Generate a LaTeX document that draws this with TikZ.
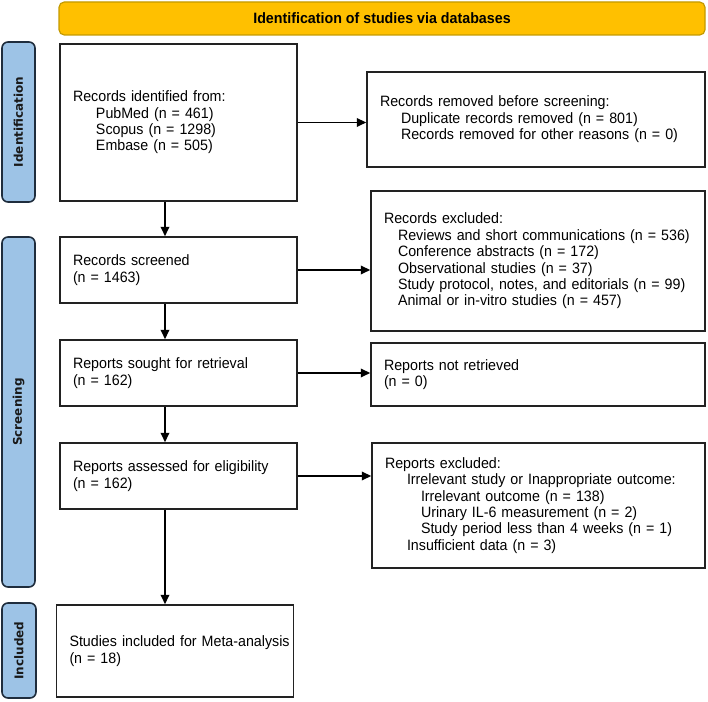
\documentclass[tikz,border=0pt]{standalone}
\usepackage{fontspec}
\setmainfont{Liberation Sans}[FakeStretch=0.95]
\newfontfamily\labfam{DejaVu Sans}
\usetikzlibrary{arrows.meta}
\definecolor{bannerfill}{HTML}{FFC000}
\definecolor{bannerline}{HTML}{C49A00}
\definecolor{phasefill}{HTML}{9DC3E6}
\definecolor{phaseline}{HTML}{1F2D3D}
\definecolor{boxline}{HTML}{222222}
\hfuzz=30pt
\newcommand{\mainsz}{\fontsize{11.25pt}{12.3pt}\selectfont}
\begin{document}
\begin{tikzpicture}[x=0.75pt,y=-0.75pt,
  box/.style={draw=boxline, line width=1.3pt, fill=white, inner xsep=9.75pt,
    align=left, font=\mainsz, minimum width=177.75pt, text width=158.25pt},
  arr/.style={draw=black, line width=1.25pt, -{Triangle[length=7pt,width=6.5pt]}},
  phase/.style={draw=phaseline, fill=phasefill, line width=1.2pt, rounded corners=4.5pt,
    rotate=90, font=\labfam\bfseries\fontsize{9pt}{10pt}\selectfont, text=black!90,
    inner sep=0pt},
  banner/.style={draw=bannerline, fill=bannerfill, line width=0.9pt, rounded corners=4pt,
    font=\bfseries\fontsize{11.25pt}{12pt}\selectfont, inner sep=0pt}
]
\useasboundingbox (0,0) rectangle (708,702);
% banner
\node[banner, minimum width=484.5pt, minimum height=24.75pt] (ban) at (382,18.5)
  {Identification of studies via databases};
% phase labels
\node[phase, minimum width=120pt, minimum height=24.75pt] (idlab) at (18.5,122) {Identification};
\node[phase, minimum width=262.5pt, minimum height=24.75pt] (scrlab) at (18.5,412) {Screening};
\node[phase, minimum width=71.25pt, minimum height=25.5pt] (inclab) at (19,650.5) {Included};
% left column
\node[box, minimum height=117.75pt] (box1) at (178.5,122.5)
  {Records identified from:\\
   \hspace*{17.25pt}PubMed (n = 461)\\
   \hspace*{17.25pt}Scopus (n = 1298)\\
   \hspace*{17.25pt}Embase (n = 505)};
\node[box, minimum height=49.5pt] (box2) at (178.5,270)
  {Records screened\\(n = 1463)};
\node[box, minimum height=49.5pt] (box3) at (178.5,373)
  {Reports sought for retrieval\\(n = 162)};
\node[box, minimum height=49.5pt] (box4) at (178.5,476)
  {Reports assessed for eligibility\\(n = 162)};
\node[box, minimum height=69pt] (box5) at (175,651)
  {\mbox{Studies included for Meta-analysis}\\(n = 18)};
% right column
\node[box, minimum width=253.5pt, text width=234pt, minimum height=71.25pt] (removed) at (536,119.5)
  {Records removed before screening:\\
   \hspace*{15.75pt}Duplicate records removed (n = 801)\\
   \hspace*{15.75pt}Records removed for other reasons (n = 0)};
\node[box, minimum width=250.5pt, text width=231pt, minimum height=105pt] (excl) at (538,261)
  {Records excluded:\\
   \hspace*{10.5pt}Reviews and short communications (n = 536)\\
   \hspace*{10.5pt}Conference abstracts (n = 172)\\
   \hspace*{10.5pt}Observational studies (n = 37)\\
   \hspace*{10.5pt}Study protocol, notes, and editorials (n = 99)\\
   \hspace*{10.5pt}Animal or in-vitro studies (n = 457)};
\node[box, minimum width=250.5pt, text width=231pt, minimum height=47.25pt] (notret) at (538,374.5)
  {Reports not retrieved\\(n = 0)};
\node[box, minimum width=249.75pt, text width=230.25pt, minimum height=93.75pt] (repexcl) at (538.5,505.5)
  {Reports excluded:\\
   \hspace*{16.5pt}Irrelevant study or Inappropriate outcome:\\
   \hspace*{27pt}Irrelevant outcome (n = 138)\\
   \hspace*{27pt}Urinary IL-6 measurement (n = 2)\\
   \hspace*{27pt}Study period less than 4 weeks (n = 1)\\
   \hspace*{16.5pt}Insufficient data (n = 3)\par\vspace{9.75pt}};
% connectors
\coordinate (vx) at (165,0);
\draw[arr] (box1.east) -- (box1.east -| removed.west);
\draw[arr] (box2.east) -- (box2.east -| excl.west);
\draw[arr] (box3.east) -- (box3.east -| notret.west);
\draw[arr] (box4.east) -- (box4.east -| repexcl.west);
\draw[arr] (box1.south -| vx) -- (box2.north -| vx);
\draw[arr] (box2.south -| vx) -- (box3.north -| vx);
\draw[arr] (box3.south -| vx) -- (box4.north -| vx);
\draw[arr] (box4.south -| vx) -- (box5.north -| vx);
\end{tikzpicture}
\end{document}
